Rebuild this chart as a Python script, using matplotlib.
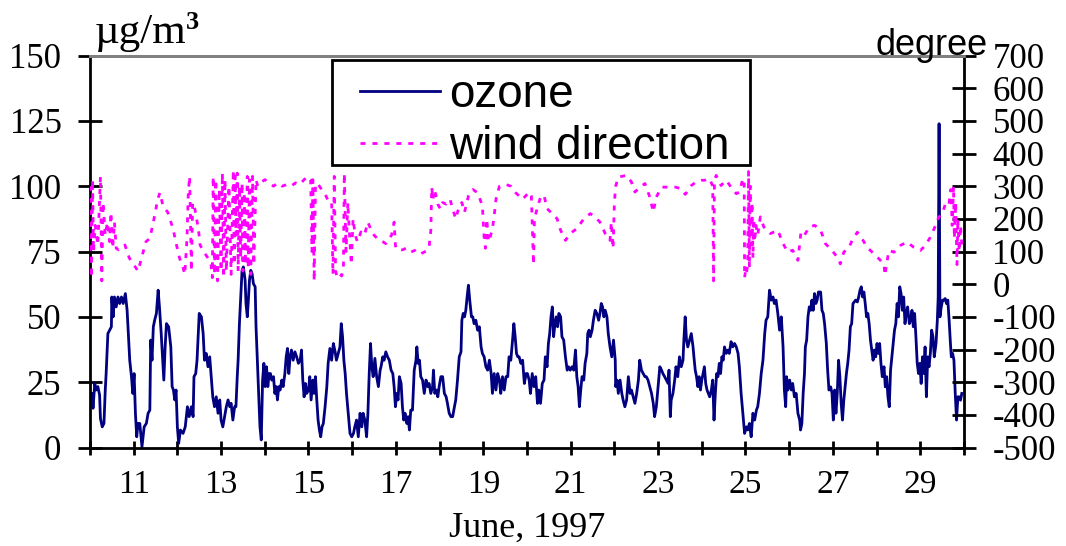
import matplotlib
matplotlib.use("Agg")
import matplotlib.pyplot as plt
from matplotlib.patches import Rectangle
from matplotlib.ticker import FixedLocator, FuncFormatter

plt.rcParams['axes.unicode_minus'] = False
SERIF = 'Liberation Serif'
SANS = 'Liberation Sans'

# ozone concentration (day of June 1997, ug/m3)
ozone_pts = [
    (10.05, 20.7), (10.07, 15.0), (10.11, 24.5), (10.14, 22.0), (10.18, 23.3), (10.22, 20.1),
    (10.24, 11.1), (10.28, 7.9), (10.32, 9.2), (10.35, 22.0), (10.37, 28.3), (10.41, 43.6),
    (10.45, 44.9), (10.49, 46.2), (10.50, 57.6), (10.53, 50.0), (10.56, 57.6), (10.60, 53.8),
    (10.64, 57.6), (10.68, 55.1), (10.72, 57.6), (10.76, 55.1), (10.81, 58.9), (10.85, 52.5),
    (10.91, 33.4), (10.95, 27.1), (10.98, 20.7), (11.01, 28.3), (11.04, 13.1), (11.07, 4.1),
    (11.10, 9.2), (11.14, 9.2), (11.19, 0.3), (11.24, 7.9), (11.29, 9.2), (11.33, 13.1),
    (11.37, 14.3), (11.39, 41.1), (11.42, 33.4), (11.45, 46.2), (11.48, 48.7), (11.52, 51.3),
    (11.56, 60.2), (11.59, 53.8), (11.63, 43.6), (11.67, 32.2), (11.69, 25.8), (11.72, 38.5),
    (11.75, 47.4), (11.80, 46.2), (11.85, 38.5), (11.88, 23.3), (11.91, 22.0), (11.94, 18.2),
    (11.97, 22.0), (12.00, 7.9), (12.03, 1.6), (12.07, 6.7), (12.13, 5.4), (12.18, 7.9),
    (12.23, 15.6), (12.27, 11.8), (12.32, 15.6), (12.36, 11.8), (12.38, 27.1), (12.42, 28.3),
    (12.45, 33.4), (12.50, 51.3), (12.55, 50.0), (12.59, 43.6), (12.62, 33.4), (12.66, 36.0),
    (12.70, 30.9), (12.74, 34.7), (12.78, 25.8), (12.81, 19.4), (12.85, 15.6), (12.89, 19.4),
    (12.93, 13.1), (12.97, 18.2), (13.00, 10.5), (13.04, 7.9), (13.08, 11.8), (13.12, 15.6),
    (13.16, 18.2), (13.20, 15.6), (13.23, 16.9), (13.27, 10.5), (13.31, 15.6),
    (13.34, 15.6), (13.37, 27.1), (13.39, 33.4), (13.42, 47.4), (13.45, 57.6), (13.48, 67.8),
    (13.51, 69.1), (13.55, 64.0), (13.57, 55.1), (13.60, 50.0), (13.62, 55.1), (13.65, 64.0),
    (13.68, 67.8), (13.71, 66.5), (13.74, 62.7), (13.78, 61.5), (13.80, 46.2), (13.83, 33.4),
    (13.86, 20.7), (13.89, 7.9), (13.92, 2.9), (13.95, 25.8), (13.98, 32.2), (14.01, 23.3),
    (14.04, 30.9), (14.07, 23.3), (14.10, 28.3), (14.13, 28.3), (14.16, 25.8), (14.20, 27.1),
    (14.23, 20.7), (14.26, 23.3), (14.29, 18.2), (14.32, 23.3), (14.35, 22.0), (14.39, 25.8),
    (14.42, 23.3), (14.46, 28.3), (14.49, 34.7), (14.52, 37.9), (14.55, 28.3), (14.58, 34.7),
    (14.61, 37.3), (14.65, 33.4), (14.69, 36.6), (14.73, 34.7), (14.77, 32.2), (14.81, 33.4),
    (14.84, 37.3), (14.87, 25.8), (14.90, 19.4), (14.93, 24.5), (14.96, 20.7), (15.00, 22.0),
    (15.03, 27.1), (15.06, 18.2), (15.10, 25.8), (15.13, 20.7), (15.16, 27.1), (15.19, 18.2),
    (15.22, 10.5), (15.25, 6.7), (15.28, 4.1), (15.31, 7.9), (15.34, 9.2), (15.38, 15.6),
    (15.42, 23.3), (15.45, 32.2), (15.49, 37.9), (15.53, 33.4), (15.57, 39.8), (15.61, 36.6),
    (15.64, 33.4), (15.68, 36.0), (15.72, 38.5), (15.75, 47.4), (15.78, 42.4), (15.81, 33.4),
    (15.84, 28.3), (15.87, 20.7), (15.91, 13.1), (15.95, 5.4), (15.99, 4.1), (16.03, 5.4),
    (16.06, 7.9), (16.10, 10.5), (16.14, 4.1), (16.18, 13.1), (16.22, 7.9), (16.25, 13.1),
    (16.29, 10.5), (16.33, 4.1), (16.36, 13.1), (16.39, 28.3), (16.42, 39.8), (16.45, 30.9),
    (16.48, 27.1), (16.52, 34.1), (16.56, 27.1), (16.60, 23.3),
    (16.64, 29.6), (16.66, 30.9), (16.70, 34.7), (16.73, 33.4), (16.77, 36.6), (16.81, 34.7),
    (16.85, 33.4), (16.89, 29.6), (16.93, 28.3), (16.96, 23.3), (16.99, 15.6), (17.02, 20.7),
    (17.05, 18.2), (17.08, 27.1), (17.12, 24.5), (17.15, 15.6), (17.18, 10.5), (17.21, 13.1),
    (17.25, 9.2), (17.28, 11.8), (17.31, 6.7), (17.34, 14.3), (17.38, 14.3), (17.42, 29.6),
    (17.46, 33.4), (17.48, 38.5), (17.51, 32.2), (17.54, 33.4), (17.57, 27.1), (17.61, 25.8),
    (17.65, 20.7), (17.69, 25.8), (17.73, 23.3), (17.76, 24.5), (17.80, 20.7), (17.84, 23.3),
    (17.86, 29.6), (17.89, 20.7), (17.93, 22.0), (17.96, 19.4), (17.99, 23.3), (18.03, 27.1),
    (18.07, 27.1), (18.11, 20.7), (18.15, 19.4), (18.18, 16.9), (18.22, 13.1), (18.26, 11.8),
    (18.30, 11.8), (18.34, 15.6), (18.37, 18.2), (18.41, 25.8), (18.45, 34.7), (18.49, 36.6),
    (18.51, 48.7), (18.54, 51.3), (18.57, 50.0), (18.60, 52.5), (18.63, 57.6), (18.66, 62.1),
    (18.69, 56.4), (18.73, 50.0), (18.76, 50.0), (18.79, 47.4), (18.83, 48.7), (18.87, 44.9),
    (18.91, 46.2), (18.95, 38.5), (18.98, 36.0), (19.02, 34.7), (19.06, 30.9), (19.10, 29.6),
    (19.14, 33.4), (19.18, 28.3), (19.21, 20.7), (19.25, 28.3), (19.29, 22.0), (19.33, 28.3),
    (19.37, 25.8), (19.40, 20.7), (19.44, 27.1), (19.48, 22.0), (19.52, 27.1), (19.56, 27.1),
    (19.59, 34.7), (19.63, 33.4), (19.67, 41.1), (19.70, 47.4), (19.73, 42.4), (19.76, 36.0),
    (19.79, 34.7), (19.82, 34.7), (19.86, 32.2), (19.90, 33.4), (19.94, 24.5), (19.98, 28.3),
    (20.01, 28.3), (20.05, 25.8), (20.08, 20.7), (20.12, 28.3), (20.16, 23.3), (20.20, 27.1),
    (20.24, 16.9), (20.27, 22.0), (20.31, 16.9), (20.35, 24.5), (20.39, 25.8), (20.42, 34.7),
    (20.46, 30.9), (20.49, 39.8), (20.52, 43.6), (20.55, 50.0), (20.58, 53.8), (20.61, 42.4),
    (20.64, 47.4), (20.67, 50.0), (20.70, 46.2), (20.73, 51.3), (20.77, 50.0), (20.80, 42.4),
    (20.84, 41.1), (20.88, 34.7), (20.92, 29.6), (20.95, 30.9), (20.99, 29.6), (21.03, 30.9),
    (21.07, 29.6), (21.11, 37.3), (21.14, 27.1), (21.17, 23.3), (21.20, 15.6), (21.23, 22.0),
    (21.26, 27.1), (21.30, 25.8), (21.33, 32.2), (21.37, 36.0), (21.39, 43.6), (21.42, 44.9),
    (21.45, 42.4), (21.49, 44.9), (21.52, 48.7), (21.56, 52.5), (21.60, 51.3), (21.64, 48.7),
    (21.67, 51.3), (21.70, 55.1), (21.73, 53.8), (21.76, 50.0), (21.79, 52.5), (21.83, 50.0),
    (21.86, 43.6), (21.90, 38.5), (21.94, 34.7), (21.98, 41.1), (22.02, 33.4), (22.03, 23.3),
    (22.06, 25.8), (22.09, 20.7), (22.13, 25.8), (22.17, 20.7), (22.20, 18.2), (22.24, 15.6),
    (22.28, 18.2), (22.32, 27.1), (22.36, 20.7), (22.39, 22.0), (22.43, 19.4), (22.47, 16.9),
    (22.51, 20.7), (22.55, 25.8), (22.58, 33.4), (22.62, 29.6), (22.66, 28.3), (22.70, 27.1),
    (22.73, 27.1), (22.77, 25.8), (22.81, 23.3), (22.85, 20.7), (22.89, 16.9), (22.92, 11.8),
    (22.96, 15.6), (23.00, 23.3), (23.04, 30.9), (23.08, 29.6), (23.11, 28.3), (23.15, 27.1),
    (23.19, 25.8), (23.23, 24.5), (23.25, 29.6), (23.28, 11.8), (23.30, 18.2),
    (23.34, 20.7), (23.38, 25.8), (23.41, 30.9), (23.45, 27.1), (23.49, 34.7), (23.53, 30.9),
    (23.57, 33.4), (23.59, 41.1), (23.62, 50.0), (23.65, 41.1), (23.68, 38.5), (23.72, 41.1),
    (23.76, 43.6), (23.80, 38.5), (23.82, 34.7), (23.85, 29.6), (23.88, 27.1), (23.91, 23.3),
    (23.94, 27.1), (23.97, 22.0), (24.00, 25.8), (24.03, 28.3), (24.06, 30.9), (24.09, 24.5),
    (24.12, 22.0), (24.15, 20.7), (24.18, 19.4), (24.22, 22.0), (24.25, 25.8), (24.28, 10.5),
    (24.31, 20.7), (24.34, 28.3), (24.37, 27.1), (24.40, 32.2), (24.43, 28.3), (24.46, 34.7),
    (24.49, 33.4), (24.52, 38.5), (24.56, 36.0), (24.60, 37.3), (24.63, 36.0), (24.67, 40.5),
    (24.71, 38.5), (24.75, 39.8), (24.79, 38.5), (24.83, 36.0), (24.86, 30.9), (24.90, 20.7),
    (24.94, 13.1), (24.98, 5.4), (25.02, 7.9), (25.05, 6.7), (25.09, 9.2), (25.13, 4.1),
    (25.17, 13.1), (25.21, 10.5), (25.25, 14.3), (25.28, 15.6), (25.32, 20.7), (25.36, 28.3),
    (25.40, 33.4), (25.44, 43.6), (25.47, 48.7), (25.51, 50.0), (25.55, 60.2), (25.59, 56.4),
    (25.63, 57.6), (25.66, 55.1), (25.70, 56.4), (25.74, 51.3), (25.78, 44.9), (25.82, 50.0),
    (25.86, 38.5), (25.89, 22.0), (25.92, 15.6), (25.94, 27.1), (25.97, 22.0), (26.01, 25.8),
    (26.05, 22.0), (26.08, 24.5), (26.12, 19.4), (26.16, 20.7), (26.20, 13.1), (26.24, 10.5),
    (26.26, 6.7), (26.29, 9.2), (26.32, 20.7), (26.35, 28.3), (26.37, 38.5), (26.40, 41.1),
    (26.43, 50.0), (26.46, 53.8), (26.49, 52.5), (26.52, 56.4), (26.55, 52.5), (26.58, 58.9),
    (26.61, 55.1), (26.64, 56.4), (26.67, 59.5),
    (26.72, 59.5), (26.75, 52.5), (26.78, 51.3), (26.81, 47.4), (26.85, 39.8), (26.88, 29.6),
    (26.91, 22.0), (26.95, 23.2), (26.98, 20.7), (27.01, 10.5), (27.04, 22.0), (27.07, 13.1),
    (27.10, 20.7), (27.13, 33.4), (27.16, 27.1), (27.19, 16.9), (27.22, 10.5), (27.25, 18.1),
    (27.28, 23.2), (27.31, 28.3), (27.34, 32.2), (27.37, 37.3), (27.40, 46.2), (27.43, 47.4),
    (27.46, 55.1), (27.49, 55.7), (27.52, 56.4), (27.56, 55.7), (27.59, 57.6), (27.62, 60.2),
    (27.65, 61.5), (27.68, 57.6), (27.71, 59.5), (27.74, 55.1), (27.77, 50.0), (27.80, 51.3),
    (27.83, 47.4), (27.86, 41.1), (27.89, 37.3), (27.92, 33.4), (27.95, 37.3), (27.98, 34.7),
    (28.01, 39.8), (28.04, 36.0), (28.07, 39.8), (28.10, 32.2), (28.13, 27.1), (28.17, 30.9),
    (28.20, 23.2), (28.23, 27.1), (28.26, 19.4), (28.29, 15.6), (28.32, 29.6), (28.35, 34.7),
    (28.38, 39.8), (28.41, 44.9), (28.44, 47.4), (28.47, 55.1), (28.50, 50.0), (28.53, 61.5),
    (28.56, 58.9), (28.59, 52.5), (28.62, 57.6), (28.65, 47.4), (28.68, 51.3), (28.71, 53.8),
    (28.75, 47.4), (28.78, 48.7), (28.81, 52.5), (28.84, 46.2), (28.87, 51.3), (28.90, 42.4),
    (28.93, 32.2), (28.96, 28.3), (28.99, 32.2), (29.02, 24.5), (29.05, 34.7), (29.08, 28.3),
    (29.11, 38.5), (29.14, 19.4), (29.17, 34.7), (29.20, 30.9), (29.23, 36.0), (29.26, 44.9),
    (29.29, 42.4), (29.32, 34.7), (29.36, 39.8), (29.39, 48.7), (29.41, 57.6), (29.43, 123.9),
    (29.45, 50.0), (29.48, 53.8), (29.51, 56.4), (29.54, 56.4), (29.57, 57.0), (29.60, 55.1),
    (29.63, 56.4), (29.66, 48.7), (29.69, 39.8), (29.71, 34.7), (29.74, 36.0), (29.77, 33.4),
    (29.80, 20.7), (29.83, 10.5), (29.86, 19.4), (29.89, 19.4), (29.92, 18.1), (29.95, 20.7),
]

# wind direction (day of June 1997, degree)
wind_pts = [
    (10.00, 300), (10.03, 20), (10.06, 320), (10.08, 100), (10.12, 180), (10.18, 120),
    (10.24, 330), (10.27, 10), (10.30, 250), (10.35, 150), (10.40, 190), (10.45, 130),
    (10.48, 220), (10.52, 110), (10.56, 190), (10.60, 110), (10.66, 105), (10.72, 110),
    (10.80, 120), (10.90, 80), (11.05, 50), (11.10, 40), (11.18, 80), (11.28, 130),
    (11.37, 140), (11.45, 190), (11.55, 260), (11.60, 280), (11.67, 240), (11.78, 220),
    (11.90, 170), (11.98, 120), (12.05, 80), (12.13, 50), (12.17, 30), (12.22, 140),
    (12.25, 280), (12.28, 330), (12.30, 200), (12.32, 40), (12.35, 250), (12.40, 230),
    (12.48, 170), (12.52, 120), (12.60, 100), (12.70, 80), (12.77, 60), (12.80, 20),
    (12.82, 330), (12.85, 30), (12.88, 320), (12.92, 10), (12.96, 290), (13.00, 40),
    (13.03, 340), (13.06, 20), (13.09, 320), (13.12, 40), (13.18, 300), (13.23, 30),
    (13.28, 350), (13.30, 60), (13.32, 330), (13.34, 150), (13.37, 340), (13.39, 40),
    (13.42, 300), (13.45, 80), (13.48, 310), (13.50, 40), (13.53, 280), (13.56, 60),
    (13.60, 330), (13.62, 50), (13.65, 320), (13.68, 30), (13.72, 330), (13.75, 60),
    (13.80, 320), (13.84, 300), (13.90, 310), (14.00, 320), (14.10, 310), (14.20, 300),
    (14.30, 310), (14.40, 300), (14.50, 305), (14.60, 300), (14.70, 310), (14.80, 305),
    (14.90, 320), (14.98, 330), (15.05, 320), (15.08, 100), (15.10, 320), (15.13, 10),
    (15.16, 300), (15.20, 310), (15.30, 290), (15.40, 270), (15.47, 250), (15.53, 250),
    (15.56, 30), (15.59, 330), (15.62, 40), (15.66, 20), (15.72, 30), (15.76, 25),
    (15.80, 50), (15.82, 340), (15.86, 100), (15.90, 250), (15.94, 150), (15.98, 60),
    (16.02, 200), (16.07, 150), (16.12, 130), (16.20, 160), (16.28, 150), (16.36, 190),
    (16.42, 170), (16.50, 150), (16.62, 134), (16.70, 130), (16.77, 124), (16.90, 150),
    (16.96, 190), (16.99, 120), (17.00, 109), (17.08, 104), (17.15, 105), (17.23, 110),
    (17.34, 98), (17.46, 105), (17.57, 93), (17.73, 104), (17.76, 114), (17.80, 165),
    (17.82, 297), (17.85, 260), (17.88, 290), (17.92, 270), (17.96, 245), (18.02, 230),
    (18.07, 250), (18.15, 245), (18.24, 260), (18.30, 230), (18.37, 200), (18.45, 240),
    (18.51, 250), (18.57, 220), (18.66, 270), (18.76, 290), (18.87, 280), (18.98, 240),
    (19.02, 140), (19.05, 110), (19.08, 200), (19.12, 130), (19.17, 150), (19.21, 170),
    (19.25, 210), (19.29, 260), (19.37, 300), (19.52, 305), (19.63, 300), (19.74, 280),
    (19.90, 260), (20.05, 282), (20.10, 270), (20.13, 140), (20.15, 60), (20.17, 200),
    (20.23, 230), (20.31, 267), (20.39, 272), (20.46, 231), (20.58, 216), (20.69, 200),
    (20.77, 165), (20.88, 134), (20.99, 155), (21.14, 170), (21.30, 200), (21.45, 216),
    (21.56, 206), (21.67, 190), (21.79, 155), (21.90, 134), (21.93, 190), (21.97, 109),
    (22.00, 250), (22.03, 300), (22.09, 328), (22.28, 333), (22.39, 313), (22.47, 282),
    (22.58, 297), (22.70, 308), (22.81, 267), (22.89, 221), (22.96, 267), (23.08, 297),
    (23.19, 297), (23.30, 297), (23.40, 297), (23.53, 292), (23.62, 275), (23.65, 280),
    (23.76, 302), (23.87, 313), (23.99, 318), (24.06, 318), (24.18, 323), (24.25, 300),
    (24.27, 10), (24.29, 320), (24.33, 333), (24.44, 302), (24.56, 318), (24.67, 297),
    (24.79, 277), (24.86, 282), (24.94, 323), (24.97, 320), (24.98, 20), (25.00, 40),
    (25.02, 30), (25.05, 60), (25.07, 345), (25.09, 50), (25.11, 300), (25.13, 120),
    (25.15, 250), (25.17, 80), (25.19, 200), (25.21, 130), (25.24, 180), (25.28, 150),
    (25.34, 206), (25.42, 175), (25.49, 165), (25.57, 155), (25.74, 165), (25.86, 124),
    (25.97, 98), (26.08, 104), (26.20, 73), (26.27, 160), (26.35, 150), (26.46, 175),
    (26.58, 180), (26.70, 170), (26.75, 154), (26.83, 124), (26.98, 103), (27.10, 83),
    (27.17, 62), (27.25, 98), (27.37, 113), (27.44, 134), (27.56, 159), (27.67, 139),
    (27.78, 113), (27.94, 93), (28.05, 78), (28.17, 62), (28.19, 27), (28.28, 103),
    (28.40, 98), (28.55, 119), (28.70, 129), (28.85, 113), (29.00, 103), (29.12, 119),
    (29.23, 144), (29.35, 180), (29.42, 205), (29.50, 215), (29.60, 256), (29.66, 250),
    (29.70, 290), (29.73, 180), (29.76, 300), (29.78, 140), (29.81, 250), (29.84, 60),
    (29.86, 200), (29.89, 100), (29.92, 180), (29.95, 120),
]

day_ticks = list(range(10, 31))
left_ticks = [0, 25, 50, 75, 100, 125, 150]
right_ticks = list(range(-500, 701, 100))

oz_day = [p[0] for p in ozone_pts]
oz_val = [p[1] for p in ozone_pts]
wd_day = [p[0] for p in wind_pts]
wd_val = [p[1] for p in wind_pts]

W, H = 1066, 546
fig = plt.figure(figsize=(W / 100, H / 100), dpi=100)
ax = fig.add_axes([0.0844, 0.1804, 0.8199, 0.7179])
ax2 = ax.twinx()

l1, = ax.plot(oz_day, oz_val, color='#000080', lw=2.0, label='ozone')
l2, = ax2.plot(wd_day, wd_val, color='#ff00ff', lw=2.0, ls=(0, (1.8, 2.5)),
               label='wind direction')

ax.set_xlim(10, 30)
ax.set_ylim(0, 150)
ax2.set_ylim(-500, 700)

ax.xaxis.set_major_locator(FixedLocator(day_ticks))
ax.xaxis.set_major_formatter(FuncFormatter(lambda v, p: str(int(v)) if int(v) % 2 == 1 and v < 30 else ''))
ax.yaxis.set_major_locator(FixedLocator(left_ticks))
ax2.yaxis.set_major_locator(FixedLocator(right_ticks))

for a in (ax, ax2):
    for s in a.spines.values():
        s.set_linewidth(2)
    a.spines['top'].set_color('#808080')
ax2.spines['left'].set_visible(False)
ax2.spines['bottom'].set_visible(False)
ax.spines['right'].set_visible(False)

ax.tick_params(axis='y', direction='inout', length=17, width=2, pad=12, labelsize=25)
ax.tick_params(axis='x', direction='inout', length=10, width=2, pad=11, labelsize=24)
ax2.tick_params(axis='y', direction='inout', length=17, width=2, pad=12, labelsize=25)
for lab in ax.get_xticklabels() + ax.get_yticklabels() + ax2.get_yticklabels():
    lab.set_fontfamily(SERIF)

ax.set_xlabel('June, 1997', fontfamily=SERIF, fontsize=26, labelpad=8)

fig.text(95 / W, 1 - 43 / H, 'µg/m', fontfamily=SERIF, fontsize=31, va='baseline', ha='left')
fig.text(186 / W, 1 - 29 / H, '3', fontfamily=SERIF, fontsize=19, fontweight='bold',
         va='baseline', ha='left')
fig.text(875 / W, 1 - 55 / H, 'degree', fontfamily=SANS, fontsize=26, va='baseline', ha='left')

# legend box drawn as a plain rectangle, entries placed inside it
fig.patches.append(Rectangle((332 / W, 1 - 165 / H), 418 / W, 105 / H, transform=fig.transFigure,
                             fill=False, edgecolor='black', lw=2, zorder=5))
leg = fig.legend(handles=[l1, l2], loc='upper left', bbox_to_anchor=(360 / W, 1 - 73 / H),
                 borderaxespad=0, borderpad=0, prop={'family': SANS, 'size': 33}, frameon=False,
                 handlelength=1.75, handletextpad=0.2, labelspacing=0.17)

fig.savefig('out.png', dpi=100)
